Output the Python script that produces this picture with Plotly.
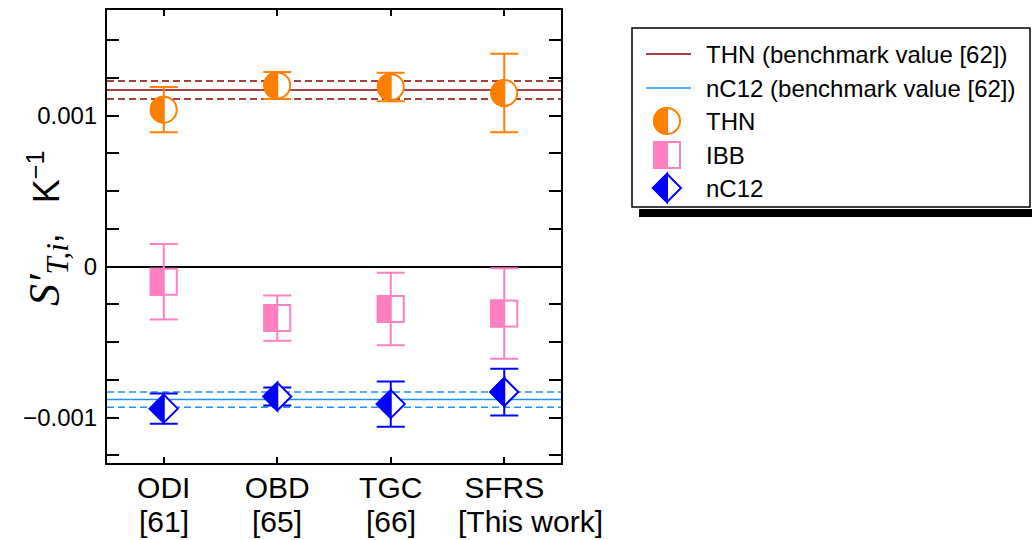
import plotly.graph_objects as go

# Thermal-diffusion (Soret) coefficient comparison per method
methods = ["ODI", "OBD", "TGC", "SFRS"]
method_refs = ["[61]", "[65]", "[66]", "[This work]"]
method_ref_shift = [0, 0, 0, 26]

thn = [1.04e-3, 1.20e-3, 1.19e-3, 1.15e-3]
thn_err = [0.15e-3, 0.09e-3, 0.095e-3, 0.26e-3]

ibb = [-0.10e-3, -0.34e-3, -0.28e-3, -0.31e-3]
ibb_err = [0.25e-3, 0.15e-3, 0.24e-3, 0.30e-3]

nc12 = [-0.94e-3, -0.86e-3, -0.91e-3, -0.83e-3]
nc12_err = [0.10e-3, 0.06e-3, 0.15e-3, 0.155e-3]

thn_ref, thn_ref_err = 1.17e-3, 0.06e-3
nc12_ref, nc12_ref_err = -0.88e-3, 0.05e-3

y_tickvals = [-0.00125, -0.001, -0.00075, -0.0005, -0.00025, 0, 0.00025,
              0.0005, 0.00075, 0.001, 0.00125, 0.0015]
y_ticktext = ["", "\u22120.001", "", "", "", "0", "", "", "", "0.001", "", ""]

ORANGE = "#ff8000"
PINK = "#ff80c0"
BLUE = "#0000ff"
DARKRED = "#8b0000"
SKY = "#1e90ff"

W, H = 1032, 540
L, R, T, B = 107, 471, 10, 77
PW, PH = W - L - R, H - T - B

x = list(range(len(methods)))
fig = go.Figure()

# error bars (markers are drawn as half-filled glyphs further below)
for vals, errs, col in [(thn, thn_err, ORANGE), (ibb, ibb_err, PINK), (nc12, nc12_err, BLUE)]:
    fig.add_trace(go.Scatter(
        x=x, y=vals, mode="markers", showlegend=False,
        marker=dict(size=1, color="rgba(0,0,0,0)"),
        error_y=dict(type="data", array=errs, color=col, thickness=2, width=14),
    ))

shapes = []

# benchmark values with their uncertainty band
for ref, err, col in [(thn_ref, thn_ref_err, DARKRED), (nc12_ref, nc12_ref_err, SKY)]:
    for v, dash in [(ref, "solid"), (ref - err, "7px,4px"), (ref + err, "7px,4px")]:
        shapes.append(dict(type="line", xref="paper", yref="y", x0=0, x1=1, y0=v, y1=v,
                           layer="below", line=dict(color=col, width=1.5, dash=dash)))


def circle(r, half=False):
    k = 0.5523 * r
    if half:
        return f"M 0,{r} C {-k},{r} {-r},{k} {-r},0 C {-r},{-k} {-k},{-r} 0,{-r} Z"
    return (f"M {r},0 C {r},{k} {k},{r} 0,{r} C {-k},{r} {-r},{k} {-r},0 "
            f"C {-r},{-k} {-k},{-r} 0,{-r} C {k},{-r} {r},{-k} {r},0 Z")


def square(h, half=False):
    if half:
        return f"M 0,{-h} L {-h},{-h} L {-h},{h} L 0,{h} Z"
    return f"M {h},{-h} L {-h},{-h} L {-h},{h} L {h},{h} Z"


def diamond(h, half=False):
    if half:
        return f"M 0,{-h} L {-h},0 L 0,{h} Z"
    return f"M 0,{-h} L {-h},0 L 0,{h} L {h},0 Z"


GLYPHS = {"circle": (circle, 13), "square": (square, 13), "diamond": (diamond, 14)}


def glyph(kind, col, xa, ya, xref, yref):
    fn, size = GLYPHS[kind]
    base = dict(type="path", xsizemode="pixel", ysizemode="pixel",
                xanchor=xa, yanchor=ya, xref=xref, yref=yref, layer="above")
    return [
        dict(base, path=fn(size), fillcolor="white", line=dict(color=col, width=2)),
        dict(base, path=fn(size, True), fillcolor=col, line=dict(color=col, width=2)),
    ]


for vals, kind, col in [(thn, "circle", ORANGE), (ibb, "square", PINK), (nc12, "diamond", BLUE)]:
    for xi, v in zip(x, vals):
        shapes += glyph(kind, col, xi, v, "x", "y")


def px(xp):
    return (xp - L) / PW


def py(yp):
    return (H - B - yp) / PH


# hand-built legend box with a drop shadow
shapes.append(dict(type="rect", xref="paper", yref="paper", layer="above",
                   x0=px(639), x1=px(1040), y0=py(217), y1=py(209),
                   fillcolor="black", line=dict(width=0)))
shapes.append(dict(type="rect", xref="paper", yref="paper", layer="above",
                   x0=px(632), x1=px(1030), y0=py(207), y1=py(28),
                   fillcolor="white", line=dict(color="black", width=1.5)))

legend_rows = [
    ("line", DARKRED, "THN (benchmark value [62])"),
    ("line", SKY, "nC12 (benchmark value [62])"),
    ("circle", ORANGE, "THN"),
    ("square", PINK, "IBB"),
    ("diamond", BLUE, "nC12"),
]
row_y = [54, 88, 121, 155, 188]
annotations = []
for (kind, col, label), yy in zip(legend_rows, row_y):
    if kind == "line":
        shapes.append(dict(type="line", xref="paper", yref="paper", layer="above",
                           x0=px(646), x1=px(691), y0=py(yy), y1=py(yy),
                           line=dict(color=col, width=1.5)))
    else:
        shapes += glyph(kind, col, px(667), py(yy), "paper", "paper")
    annotations.append(dict(xref="paper", yref="paper", x=px(704), y=py(yy),
                            xanchor="left", yanchor="middle", showarrow=False,
                            text=label, font=dict(size=24, color="black")))

# second line of the category labels (source reference), set tight under the tick labels
for xi, label, dx in zip(x, method_refs, method_ref_shift):
    annotations.append(dict(xref="x", yref="paper", x=xi, y=py(521), xshift=dx,
                            xanchor="center", yanchor="middle", showarrow=False,
                            text=label, font=dict(size=30, color="black")))

# y-axis title
annotations.append(dict(
    xref="paper", yref="paper", x=px(47), y=py(229), textangle=-90,
    xanchor="center", yanchor="middle", showarrow=False,
    text=('<span style="font-family:\'Liberation Serif\', \'Times New Roman\', serif;'
          'font-size:44px"><i>S\u2032</i><sub><i>T,i</i></sub></span>,'
          '\u00a0\u00a0\u00a0K<sup>\u22121</sup>'),
    font=dict(size=36, color="black"),
))

fig.update_layout(
    width=W, height=H,
    margin=dict(l=L, r=R, t=T, b=B, pad=0, autoexpand=False),
    paper_bgcolor="white", plot_bgcolor="white",
    font=dict(family="Arial, 'Liberation Sans', sans-serif", size=24, color="black"),
    showlegend=False,
    shapes=shapes,
    annotations=annotations,
    xaxis=dict(
        range=[-0.5, 3.5], tickmode="array", tickvals=x, ticktext=methods,
        showgrid=False, zeroline=False, automargin=False,
        showline=True, linecolor="black", linewidth=2, mirror="ticks",
        ticks="inside", ticklen=6, tickwidth=2, tickcolor="black",
        ticklabelstandoff=-3, tickfont=dict(size=30),
    ),
    yaxis=dict(
        range=[-0.0013, 0.0017], tickmode="array",
        tickvals=y_tickvals, ticktext=y_ticktext,
        showgrid=False, zeroline=True, zerolinecolor="black", zerolinewidth=1.5,
        automargin=False,
        showline=True, linecolor="black", linewidth=2, mirror="ticks",
        ticks="inside", ticklen=12, tickwidth=2, tickcolor="black",
        ticklabelstandoff=3, tickfont=dict(size=24),
    ),
)

fig.write_html("out.html")
